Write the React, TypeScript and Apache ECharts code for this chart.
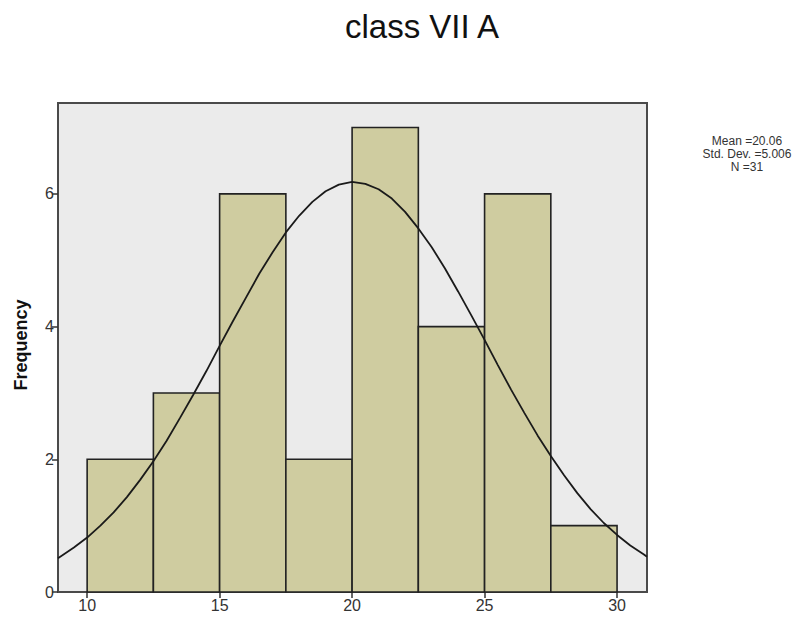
import React, { useEffect, useRef } from "react";
import * as echarts from "echarts";

const binStarts = [10, 12.5, 15, 17.5, 20, 22.5, 25, 27.5];
const binWidth = 2.5;
const counts = [2, 3, 6, 2, 7, 4, 6, 1];
const curveX = [8.9, 9.5, 10, 10.5, 11, 11.5, 12, 12.5, 13, 13.5, 14, 14.5, 15, 15.5, 16, 16.5, 17, 17.5, 18, 18.5, 19, 19.5, 20, 20.5, 21, 21.5, 22, 22.5, 23, 23.5, 24, 24.5, 25, 25.5, 26, 26.5, 27, 27.5, 28, 28.5, 29, 29.5, 30, 30.5, 31, 31.13];
const curveY = [0.51, 0.67, 0.82, 1.0, 1.2, 1.43, 1.69, 1.97, 2.28, 2.62, 2.97, 3.33, 3.71, 4.08, 4.44, 4.8, 5.12, 5.42, 5.67, 5.88, 6.04, 6.14, 6.18, 6.15, 6.07, 5.93, 5.73, 5.48, 5.2, 4.88, 4.53, 4.17, 3.8, 3.42, 3.05, 2.7, 2.36, 2.05, 1.76, 1.49, 1.25, 1.04, 0.86, 0.7, 0.57, 0.53];
const xTicks = [10, 15, 20, 25, 30];
const yTicks = [0, 2, 4, 6];
const titleText = "class VII A";
const statsLines = ["Mean =20.06", "Std. Dev. =5.006", "N =31"];
const yName = "Frequency";

export default function App() {
  const ref = useRef<HTMLDivElement>(null);
  useEffect(() => {
    if (!ref.current) return;
    const chart = echarts.init(ref.current, null, { renderer: "svg" });
    const font = "'Liberation Sans', Arial, sans-serif";
    const barData = binStarts.map((s, i) => [s, s + binWidth, counts[i]]);
    const statTexts = statsLines.map((t, i) => ({
      type: "text",
      x: 747,
      y: 141 + i * 13,
      style: {
        text: t,
        font: `12px ${font}`,
        fill: "#333",
        align: "center",
        verticalAlign: "middle",
      },
    }));
    chart.setOption({
      animation: false,
      backgroundColor: "#ffffff",
      textStyle: { fontFamily: font },
      title: {
        text: titleText,
        left: 340,
        top: 5,
        textStyle: { fontFamily: font, fontSize: 33, fontWeight: "normal", color: "#111" },
      },
      grid: {
        left: 58,
        right: 161,
        top: 103,
        bottom: 29,
        show: true,
        backgroundColor: "#EBEBEB",
        borderColor: "#4a4a4a",
        borderWidth: 2,
      },
      xAxis: {
        type: "value",
        min: 8.9,
        max: 31.13,
        splitLine: { show: false },
        axisLine: { show: false },
        axisTick: { show: true, length: 6, lineStyle: { color: "#333", width: 1.5 }, customValues: xTicks },
        axisLabel: { customValues: xTicks, color: "#333", fontSize: 16, fontFamily: font, margin: 5 },
      },
      yAxis: {
        type: "value",
        min: 0,
        max: 7.37,
        splitLine: { show: false },
        axisLine: { show: false },
        axisTick: { show: true, length: 6, lineStyle: { color: "#333", width: 1.5 }, customValues: yTicks },
        axisLabel: { customValues: yTicks, color: "#333", fontSize: 16, fontFamily: font, margin: 4 },
      },
      graphic: [
        ...statTexts,
        {
          type: "text",
          x: 21,
          y: 345,
          rotation: Math.PI / 2,
          style: {
            text: yName,
            font: `bold 18px ${font}`,
            fill: "#111",
            align: "center",
            verticalAlign: "middle",
          },
        },
      ],
      series: [
        {
          type: "custom",
          data: barData,
          encode: { x: [0, 1], y: 2 },
          renderItem: (params: any, api: any) => {
            const p0 = api.coord([api.value(0), api.value(2)]);
            const p1 = api.coord([api.value(1), 0]);
            return {
              type: "rect",
              shape: { x: p0[0], y: p0[1], width: p1[0] - p0[0], height: p1[1] - p0[1] },
              style: { fill: "#CFCCA0", stroke: "#222", lineWidth: 1.6 },
            };
          },
          z: 2,
        },
        {
          type: "line",
          data: curveX.map((x, i) => [x, curveY[i]]),
          smooth: false,
          showSymbol: false,
          lineStyle: { color: "#1a1a1a", width: 1.8 },
          clip: true,
          z: 3,
        },
      ],
    });
    return () => chart.dispose();
  }, []);
  return <div ref={ref} style={{ position: "fixed", left: 0, top: 0, width: 808, height: 621 }} />;
}
